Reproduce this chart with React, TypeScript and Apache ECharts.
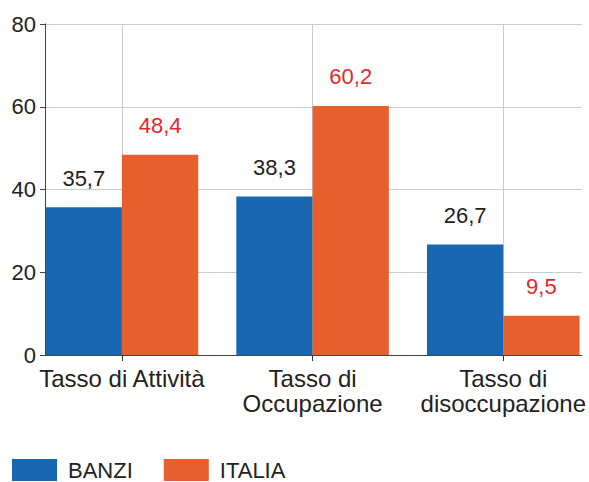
import React, { useEffect, useRef } from "react";
import * as echarts from "echarts";

const categories = ["Tasso di Attività", "Tasso di\nOccupazione", "Tasso di\ndisoccupazione"];
const banzi = [35.7, 38.3, 26.7];
const italia = [48.4, 60.2, 9.5];
const yTicks = [0, 20, 40, 60, 80];

const BLUE = "#1767b3";
const ORANGE = "#e85f2e";
const RED = "#e3282d";
const FONT = "Liberation Sans, Arial, sans-serif";

export default function App() {
  const ref = useRef<HTMLDivElement>(null);
  useEffect(() => {
    document.body.style.margin = "0";
    if (!ref.current) return;
    const chart = echarts.init(ref.current, undefined, { renderer: "svg" });
    const fmt = (p: any) => String(p.value).replace(".", ",");
    chart.setOption({
      animation: false,
      textStyle: { fontFamily: FONT },
      legend: {
        left: 12,
        top: 459,
        itemWidth: 45,
        itemHeight: 22,
        itemGap: 31,
        icon: "rect",
        padding: 0,
        textStyle: { fontSize: 22, lineHeight: 22, color: "#222", fontFamily: FONT, padding: [0, 0, 0, 6] },
        data: ["BANZI", "ITALIA"],
      },
      grid: [
        { left: 45, top: 24, width: 537, height: 331 },
        { left: 26.6, top: 24, width: 572, height: 331 },
      ],
      xAxis: [
        {
          type: "value",
          gridIndex: 0,
          min: 0,
          max: 1,
          axisLine: { show: true, onZero: false, lineStyle: { color: "#444", width: 1 } },
          axisTick: { show: false },
          axisLabel: { show: false },
          splitLine: { show: false },
        },
        {
          type: "category",
          gridIndex: 1,
          data: categories,
          axisLine: { show: false },
          axisTick: { show: true, alignWithLabel: true, length: 6, lineStyle: { color: "#333" } },
          axisLabel: {
            fontSize: 24,
            color: "#222",
            fontFamily: FONT,
            margin: 11,
            lineHeight: 25,
            interval: 0,
          },
          splitLine: { show: true, alignWithLabel: true, lineStyle: { color: "#cccccc", width: 1 } },
        },
      ],
      yAxis: [
        {
          type: "value",
          gridIndex: 0,
          min: 0,
          max: 80,
          interval: 20,
          axisLine: { show: true, lineStyle: { color: "#444" } },
          axisTick: { show: true, length: 5, lineStyle: { color: "#444" } },
          axisLabel: {
            fontSize: 22,
            color: "#222",
            fontFamily: FONT,
            margin: 9,
            formatter: (v: number) => (yTicks.includes(v) ? String(v) : ""),
          },
          splitLine: { show: true, lineStyle: { color: "#cccccc", width: 1 } },
        },
        {
          type: "value",
          gridIndex: 1,
          min: 0,
          max: 80,
          interval: 20,
          show: false,
          splitLine: { show: false },
        },
      ],
      series: [
        {
          name: "BANZI",
          type: "bar",
          xAxisIndex: 1,
          yAxisIndex: 1,
          data: banzi,
          barCategoryGap: "20%",
          barGap: "0%",
          itemStyle: { color: BLUE },
          label: {
            show: true,
            position: "top",
            distance: 18,
            fontSize: 22,
            color: "#222",
            fontFamily: FONT,
            formatter: fmt,
          },
        },
        {
          name: "ITALIA",
          type: "bar",
          xAxisIndex: 1,
          yAxisIndex: 1,
          data: italia,
          barCategoryGap: "20%",
          barGap: "0%",
          itemStyle: { color: ORANGE },
          label: {
            show: true,
            position: "top",
            distance: 18,
            fontSize: 22,
            color: RED,
            fontFamily: FONT,
            formatter: fmt,
          },
        },
      ],
    });
    return () => chart.dispose();
  }, []);
  return (
    <div style={{ width: 589, height: 482, overflow: "hidden", position: "relative" }}>
      <div ref={ref} style={{ width: 620, height: 482 }} />
    </div>
  );
}
